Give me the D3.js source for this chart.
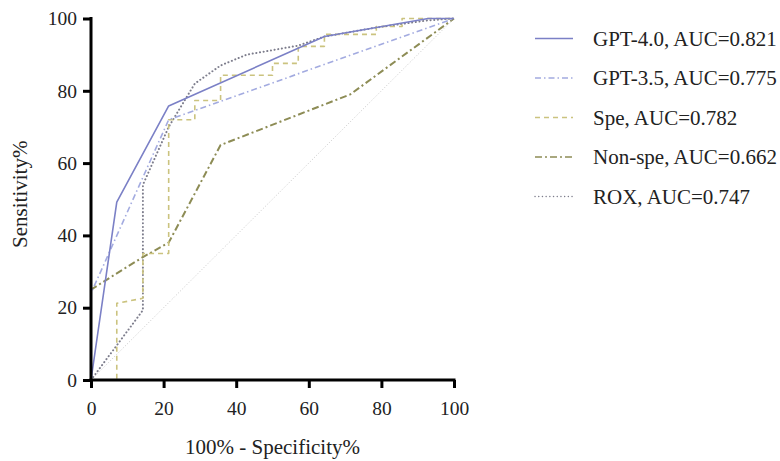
<!DOCTYPE html>
<html>
<head>
<meta charset="utf-8">
<script src="https://cdn.jsdelivr.net/npm/d3@7/dist/d3.min.js"></script>
<style>
  html, body { margin: 0; padding: 0; background: #fff; }
  svg { display: block; }
  text { font-family: "Liberation Serif", "Times New Roman", serif; fill: #222; }
</style>
</head>
<body>
<svg id="chart" width="780" height="461"></svg>
<script>
// ---- data ----
const xTicks = [0, 20, 40, 60, 80, 100];
const yTicks = [0, 20, 40, 60, 80, 100];

const seriesNames = ["GPT-4.0, AUC=0.821", "GPT-3.5, AUC=0.775", "Spe, AUC=0.782", "Non-spe, AUC=0.662", "ROX, AUC=0.747"];

const gpt4X = [0, 7.1, 21.4, 64.3, 92.9, 100];
const gpt4Y = [0, 49.2, 75.8, 95, 100, 100];

const gpt35X = [0, 0, 21.4, 100];
const gpt35Y = [0, 24, 72, 100];

const speX = [0, 7.1, 7.1, 14.3, 14.3, 21.4, 21.4, 28.6, 28.6, 35.7, 35.7, 50, 50, 57.1, 57.1, 64.3, 64.3, 78.6, 78.6, 85.7, 85.7, 100];
const speY = [0, 0, 21.2, 22.6, 35, 35, 72, 72, 77.3, 77.3, 84.3, 84.3, 87.6, 87.6, 92.3, 92.3, 95.6, 95.6, 97.8, 97.8, 100, 100];

const nonspeX = [0, 0, 7.1, 14.3, 21.4, 35.7, 71.4, 100];
const nonspeY = [0, 25, 29.5, 34, 38, 65, 79, 100];

const roxX = [0, 14.3, 14.3, 21.4, 28.6, 35.7, 42.9, 57.1, 64.3, 78.6, 92.9, 100];
const roxY = [0, 19.3, 54, 70, 82, 87, 90, 92.5, 95, 97.5, 99.5, 100];

const refX = [0, 100];
const refY = [0, 100];

// ---- layout ----
const svg = d3.select("#chart");
const x = d3.scaleLinear().domain([0, 100]).range([91, 454]);
const y = d3.scaleLinear().domain([0, 100]).range([380, 18.5]);

const styles = [
  { color: "#7b80c6", width: 1.6, dash: null, cap: "butt" },
  { color: "#a3abe0", width: 1.6, dash: "6,3,1.5,3", cap: "butt" },
  { color: "#cbc37f", width: 1.6, dash: "5,4", cap: "butt" },
  { color: "#8d8c55", width: 2, dash: "7,3,2,3", cap: "butt" },
  { color: "#7d7d8c", width: 2, dash: "0.1,3.6", cap: "round" }
];

const line = d3.line().x(d => x(d[0])).y(d => y(d[1]));
const zip = (xs, ys) => xs.map((v, i) => [v, ys[i]]);

// reference diagonal
svg.append("path")
  .attr("d", line(zip(refX, refY)))
  .attr("fill", "none").attr("stroke", "#c9c9c9").attr("stroke-width", 1)
  .attr("stroke-dasharray", "1,2");

const series = [
  zip(gpt4X, gpt4Y), zip(gpt35X, gpt35Y), zip(speX, speY), zip(nonspeX, nonspeY), zip(roxX, roxY)
];
const order = [4, 3, 2, 1, 0];
order.forEach(i => {
  const s = styles[i];
  svg.append("path")
    .attr("d", line(series[i]))
    .attr("fill", "none")
    .attr("stroke", s.color)
    .attr("stroke-width", s.width)
    .attr("stroke-linecap", s.cap)
    .attr("stroke-linejoin", "round")
    .attr("stroke-dasharray", s.dash);
});

// axes
const xAxis = d3.axisBottom(x).tickValues(xTicks).tickSize(8).tickPadding(13).tickFormat(d3.format("d"));
const yAxis = d3.axisLeft(y).tickValues(yTicks).tickSize(8).tickPadding(6).tickFormat(d3.format("d"));

const gx = svg.append("g").attr("transform", "translate(0,380)").call(xAxis);
const gy = svg.append("g").attr("transform", "translate(91,0)").call(yAxis);
[gx, gy].forEach(g => {
  g.select(".domain").attr("stroke", "#000").attr("stroke-width", 3).attr("stroke-linecap", "square");
  g.selectAll(".tick line").attr("stroke", "#000").attr("stroke-width", 3);
  g.selectAll(".tick text").style("font-family", "'Liberation Serif', serif").style("font-size", "19.5px").attr("fill", "#222");
});
gx.select(".domain").attr("d", `M${x(0)},0H${x(100)}`);
gy.select(".domain").attr("d", `M0,${y(0)}V${y(100)}`);

// axis titles
svg.append("text")
  .attr("x", (x(0) + x(100)) / 2).attr("y", 454)
  .attr("text-anchor", "middle").style("font-size", "21px")
  .text("100% - Specificity%");
svg.append("text")
  .attr("transform", `translate(27,${(y(0) + y(100)) / 2 - 5}) rotate(-90)`)
  .attr("text-anchor", "middle").style("font-size", "21px")
  .text("Sensitivity%");

// legend
const legY0 = 38.5, legStep = 39.5;
seriesNames.forEach((name, i) => {
  const s = styles[i];
  const yy = legY0 + i * legStep;
  svg.append("line")
    .attr("x1", 535).attr("x2", 573).attr("y1", yy).attr("y2", yy)
    .attr("stroke", s.color).attr("stroke-width", 1.4)
    .attr("stroke-linecap", s.cap)
    .attr("stroke-dasharray", s.dash);
  svg.append("text")
    .attr("x", 593).attr("y", yy + 7)
    .style("font-size", "21px")
    .text(name);
});
</script>
</body>
</html>
